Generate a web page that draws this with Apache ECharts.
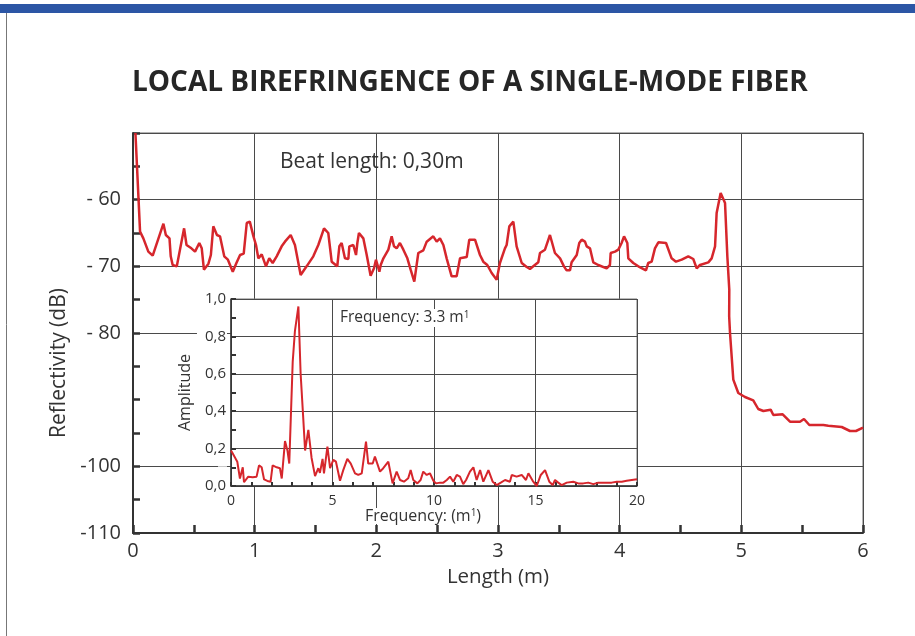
<!DOCTYPE html>
<html><head><meta charset="utf-8">
<script src="https://cdn.jsdelivr.net/npm/echarts@6/dist/echarts.min.js"></script>
<style>html,body{margin:0;padding:0;background:#fff}#c{width:915px;height:636px}</style>
</head><body><div id="c"></div>
<script>
// Main trace: length (m) vs reflectivity (dB)
const lengthM = [0.02,0.058,0.085,0.126,0.162,0.25,0.27,0.30,0.31,0.326,0.36,0.386,0.42,0.44,0.48,0.51,0.545,0.565,0.583,0.62,0.64,0.66,0.69,0.715,0.75,0.78,0.82,0.85,0.88,0.91,0.935,0.96,0.99,1.011,1.030,1.058,1.093,1.120,1.148,1.181,1.222,1.249,1.296,1.331,1.378,1.427,1.482,1.523,1.570,1.605,1.633,1.679,1.696,1.715,1.742,1.770,1.778,1.811,1.833,1.844,1.857,1.893,1.921,1.953,1.981,1.997,2.025,2.036,2.058,2.099,2.126,2.145,2.167,2.194,2.222,2.255,2.282,2.312,2.345,2.386,2.414,2.468,2.496,2.523,2.551,2.578,2.619,2.660,2.688,2.743,2.764,2.811,2.852,2.879,2.912,2.948,2.989,3.016,3.057,3.071,3.093,3.126,3.153,3.195,3.236,3.263,3.290,3.331,3.345,3.386,3.414,3.427,3.468,3.510,3.542,3.564,3.592,3.605,3.647,3.668,3.688,3.715,3.729,3.756,3.783,3.824,3.893,3.920,3.926,3.962,3.989,4.016,4.036,4.063,4.071,4.112,4.153,4.216,4.235,4.263,4.290,4.318,4.381,4.427,4.463,4.510,4.564,4.605,4.633,4.660,4.729,4.756,4.784,4.797,4.830,4.866,4.885,4.901,4.900,4.907,4.934,4.975,5.030,5.098,5.139,5.181,5.241,5.263,5.340,5.400,5.482,5.515,5.559,5.674,5.715,5.825,5.893,5.942,6.0];
const reflectivityDb = [-50,-64.8,-65.8,-67.8,-68.4,-63.6,-65.3,-65.8,-68.5,-69.8,-70,-67.5,-64.3,-66.8,-67.3,-67.8,-66.5,-67.3,-70.5,-69.6,-68.3,-64,-65.3,-65.5,-68.5,-69,-70.8,-69.5,-68.3,-68.1,-63.5,-63.3,-65.5,-66.8,-68.8,-68.2,-70.0,-68.8,-69.5,-68.5,-67.0,-66.3,-65.3,-66.8,-71.3,-70.0,-68.5,-66.8,-64.3,-65.0,-69.3,-70.0,-67.0,-66.5,-68.8,-68.9,-67.0,-66.8,-68.3,-66.5,-65.0,-65.8,-68.3,-71.4,-70.3,-69.0,-70.8,-69.8,-68.8,-67.5,-65.5,-67.0,-67.3,-66.5,-67.5,-68.8,-70.5,-72.3,-68.0,-67.6,-66.3,-65.5,-66.3,-65.8,-66.8,-68.8,-71.5,-71.5,-68.8,-68.6,-66.0,-66.0,-68.3,-69.3,-69.8,-71.0,-72.0,-69.5,-67.3,-66.8,-64.0,-63.3,-67.0,-69.5,-70.1,-70.4,-70.0,-69.4,-68.0,-67.5,-66.0,-65.3,-68.0,-68.8,-70.0,-70.6,-70.6,-69.4,-68.3,-66.5,-66.0,-66.3,-67.0,-67.3,-69.4,-69.8,-70.3,-69.8,-68.0,-67.8,-67.5,-66.5,-65.5,-66.5,-68.8,-69.5,-70.0,-70.6,-69.5,-69.3,-67.3,-66.4,-66.5,-68.8,-69.3,-69.0,-68.5,-68.9,-70.3,-69.8,-69.4,-68.8,-67.0,-62.0,-59.0,-60.5,-68.5,-73.5,-77.5,-80.0,-87.0,-89.0,-89.6,-90.1,-91.4,-91.7,-91.5,-92.3,-92.2,-93.3,-93.3,-92.9,-93.8,-93.8,-93.9,-94.1,-94.7,-94.7,-94.2];

// Inset: spectrum, frequency (1/m) vs amplitude
const frequency = [0,0.08,0.31,0.44,0.58,0.64,0.85,1.07,1.26,1.38,1.51,1.63,1.79,1.95,2.05,2.25,2.41,2.50,2.66,2.78,2.87,3.04,3.15,3.32,3.43,3.56,3.65,3.81,3.97,4.14,4.30,4.38,4.51,4.58,4.75,4.88,5.04,5.17,5.37,5.53,5.73,5.90,6.11,6.27,6.44,6.65,6.76,6.98,7.09,7.34,7.50,7.75,7.96,8.16,8.33,8.52,8.73,8.85,8.98,9.18,9.34,9.47,9.64,9.80,9.97,10.1,10.3,10.46,10.63,10.79,10.95,11.12,11.28,11.44,11.58,11.77,11.94,12.1,12.27,12.43,12.68,12.89,13.09,13.29,13.50,13.74,13.83,14.07,14.32,14.53,14.65,14.89,15.06,15.26,15.47,15.68,15.85,15.96,16.12,16.29,16.54,16.86,17.11,17.35,17.60,17.85,18.09,18.42,18.75,19.0,19.25,19.49,20.0];
const amplitude = [0.19,0.175,0.13,0.04,0.10,0.02,0.05,0.047,0.05,0.11,0.10,0.035,0.027,0.023,0.11,0.10,0.095,0.04,0.24,0.19,0.12,0.665,0.83,0.96,0.60,0.36,0.19,0.30,0.15,0.053,0.095,0.07,0.145,0.068,0.21,0.095,0.14,0.13,0.028,0.085,0.145,0.12,0.068,0.059,0.068,0.237,0.12,0.12,0.157,0.077,0.095,0.13,0.014,0.077,0.032,0.023,0.041,0.085,0.032,0.014,0.032,0.077,0.059,0.068,0.028,0.014,0.018,0.018,0.032,0.05,0.023,0.059,0.05,0.01,0.032,0.077,0.10,0.032,0.085,0.023,0.085,0.023,0.005,0.018,0.032,0.023,0.059,0.05,0.059,0.032,0.068,0.023,0.0,0.059,0.085,0.023,0.005,0.032,0.018,0.005,0.018,0.023,0.014,0.014,0.018,0.01,0.018,0.018,0.018,0.023,0.023,0.028,0.036];

// Tick labels
const mainXTickLabels = [0,1,2,3,4,5,6];
const mainYTickLabels = {'-60':'- 60','-70':'- 70','-80':'- 80','-100':'-100','-110':'-110'};
const mainYGridValues = [-110,-100,-80,-70,-60,-50];
const insetXTickLabels = [0,5,10,15,20];
const insetYTickLabels = ['0,0','','0,2','','0,4','','0,6','','0,8','','1,0'];

const FONT = 'Open Sans';
const TXT = '#333';
const GRIDC = '#4a4a4a';
const RED = '#d6262c';
const NONE = 'rgba(0,0,0,0)';

const yColors = [];
for (let v = -110; v <= -50; v += 5) yColors.push(mainYGridValues.includes(v) ? GRIDC : NONE);

const chart = echarts.init(document.getElementById('c'));
chart.setOption({
  animation: false,
  backgroundColor: '#fff',
  textStyle: { fontFamily: FONT },
  title: {
    text: 'LOCAL BIREFRINGENCE OF A SINGLE-MODE FIBER',
    left: 127, top: 64,
    textStyle: { fontFamily: FONT, fontSize: 28, fontWeight: 'bold', color: '#262626' }
  },
  grid: [
    { left: 133, top: 133, width: 730, height: 400, show: true, borderColor: '#666', borderWidth: 1, backgroundColor: NONE },
    { left: 231, top: 299, width: 406, height: 187, show: true, borderColor: '#777', borderWidth: 1, backgroundColor: '#fff', z: 5 }
  ],
  xAxis: [
    {
      gridIndex: 0, type: 'value', min: 0, max: 6, interval: 0.5,
      name: 'Length (m)', nameLocation: 'middle', nameGap: 34,
      nameTextStyle: { fontFamily: FONT, fontSize: 20.5, color: TXT },
      axisLine: { lineStyle: { color: '#333', width: 2 } },
      axisTick: { inside: true, length: 8, lineStyle: { color: '#333', width: 2.5 } },
      axisLabel: { margin: 8, fontSize: 20, color: TXT, fontFamily: FONT,
        formatter: v => mainXTickLabels.includes(v) ? String(v) : '' },
      splitLine: { show: true, lineStyle: { color: [GRIDC, NONE], width: 1 } }
    },
    {
      gridIndex: 1, type: 'value', min: 0, max: 20, interval: 1, z: 6,
      axisLine: { lineStyle: { color: '#333', width: 1.5 } },
      axisTick: { inside: true, length: 4, lineStyle: { color: '#333', width: 2 } },
      axisLabel: { margin: 8, fontSize: 14, color: TXT, fontFamily: FONT,
        formatter: v => insetXTickLabels.includes(v) ? String(v) : '' },
      splitLine: { show: true, lineStyle: { color: [GRIDC, NONE, NONE, NONE, NONE], width: 1 } }
    }
  ],
  yAxis: [
    {
      gridIndex: 0, type: 'value', min: -110, max: -50, interval: 5,
      name: 'Reflectivity (dB)', nameLocation: 'middle', nameGap: 62,
      nameTextStyle: { fontFamily: FONT, fontSize: 21, color: TXT, padding: [0, 60, 0, 0] },
      axisLine: { lineStyle: { color: '#333', width: 2 } },
      axisTick: { inside: true, length: 7, lineStyle: { color: '#333', width: 2.5 } },
      axisLabel: { margin: 12, fontSize: 20, color: TXT, fontFamily: FONT,
        formatter: v => mainYTickLabels[String(v)] || '' },
      splitLine: { show: true, lineStyle: { color: yColors, width: 1 } }
    },
    {
      gridIndex: 1, type: 'value', min: 0, max: 1, interval: 0.1, z: 6,
      name: 'Amplitude', nameLocation: 'middle', nameGap: 33,
      nameTextStyle: { fontFamily: FONT, fontSize: 16, color: TXT },
      axisLine: { lineStyle: { color: '#333', width: 1.5 } },
      axisTick: { inside: true, length: 5, lineStyle: { color: '#333', width: 2 } },
      axisLabel: { margin: 4, fontSize: 15, color: TXT, fontFamily: FONT, backgroundColor: '#fff', padding: [1, 1, 1, 8],
        formatter: v => insetYTickLabels[Math.round(v * 10)] || '' },
      splitLine: { show: true, lineStyle: { color: [GRIDC, NONE], width: 1 } }
    }
  ],
  series: [
    {
      type: 'line', xAxisIndex: 0, yAxisIndex: 0, z: 3,
      data: lengthM.map((x, i) => [x, reflectivityDb[i]]),
      showSymbol: false, clip: true,
      lineStyle: { color: RED, width: 2.5 }
    },
    {
      type: 'line', xAxisIndex: 1, yAxisIndex: 1, z: 8,
      data: frequency.map((x, i) => [x, amplitude[i]]),
      showSymbol: false, clip: true,
      lineStyle: { color: RED, width: 2 }
    }
  ],
  graphic: [
    { type: 'rect', left: 0, top: 4, shape: { width: 915, height: 9 }, style: { fill: '#2c56a5' }, z: 50 },
    { type: 'line', shape: { x1: 6.5, y1: 13, x2: 6.5, y2: 636 }, style: { stroke: '#777', lineWidth: 1 }, z: 50 },
    { type: 'text', left: 280, top: 152, z: 50,
      style: { text: 'Beat length: 0,30m', fill: TXT, font: '21px "Open Sans"' } },
    { type: 'text', left: 338, top: 309, z: 50,
      style: { text: 'Frequency: 3.3 m{sup|1}', fill: TXT, font: '15.5px "Open Sans"',
        backgroundColor: '#fff', padding: [1, 2, 1, 2],
        rich: { sup: { fontSize: 10, verticalAlign: 'top', fill: TXT, fontFamily: FONT } } } },
    { type: 'text', x: 423, y: 516, z: 50,
      style: { text: 'Frequency: (m{sup|1})', fill: TXT, font: '16px "Open Sans"', align: 'center', verticalAlign: 'middle',
        backgroundColor: '#fff', padding: [0, 2, 0, 2],
        rich: { sup: { fontSize: 10, verticalAlign: 'top', fill: TXT, fontFamily: FONT } } } }
  ]
});
</script></body></html>
